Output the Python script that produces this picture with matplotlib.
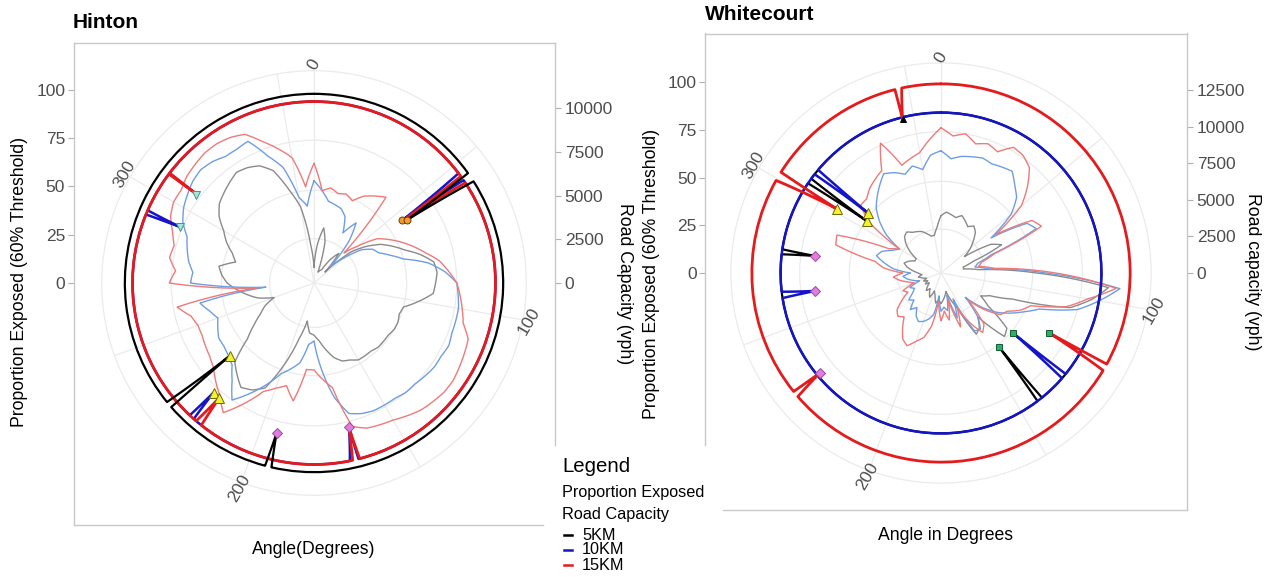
import numpy as np
import matplotlib
matplotlib.use("Agg")
import matplotlib.pyplot as plt
from matplotlib.lines import Line2D
from matplotlib.path import Path
from matplotlib.patches import PathPatch

plt.rcParams['font.family'] = ['Liberation Sans', 'DejaVu Sans']

W, H = 1266, 577

# ------------------------------------------------------------------ data
ANGLES = list(range(0, 360, 5))          # degrees, clockwise from north

# Hinton - proportion exposed (%)
hin_pe_5km = [8, 20, 29, 22, 6, 7, 8, 15, 20, 8, 25, 33, 40, 45, 50, 57, 63, 64,
              63, 62, 55, 48, 47, 48, 48, 47, 47, 47, 46, 46, 46, 44, 43, 40, 35, 30,
              27, 26, 20, 30, 45, 60, 64, 66, 62, 58, 45, 38, 32, 28, 22, 30, 35, 40,
              45, 48, 50, 42, 45, 50, 54, 60, 64, 66, 68, 70, 69, 67, 62, 50, 40, 20]
hin_pe_10km = [53, 48, 43, 42, 41, 38, 30, 38, 28, 12, 20, 30, 35, 37, 42, 48, 60, 68,
               74, 75, 76, 76, 76, 77, 76, 76, 75, 74, 74, 73, 73, 73, 72, 70, 60, 45,
               30, 32, 42, 46, 50, 58, 66, 74, 66, 60, 58, 57, 57, 55, 53, 56, 60, 25,
               64, 63, 66, 68, 70, 75, 78, 80, 82, 83, 82, 80, 80, 81, 70, 62, 45, 40]
hin_pe_15km = [62, 48, 50, 48, 49, 47, 52, 55, 58, 22, 30, 40, 45, 50, 55, 60, 66, 70,
               74, 76, 78, 80, 85, 86, 87, 88, 88, 87, 86, 84, 82, 81, 80, 77, 55, 50,
               45, 45, 62, 55, 58, 62, 72, 82, 76, 72, 68, 66, 65, 64, 64, 66, 72, 30,
               75, 72, 76, 75, 78, 82, 84, 84, 86, 87, 88, 88, 87, 85, 78, 72, 66, 50]

# Hinton - road capacity (vph)
hin_cap5_ang = [0, 54.5, 55.9, 57.5, 193.0, 194.0, 195.0, 229.0, 229.2, 231.0, 360]
hin_cap5_vph = [10830, 10830, 6410, 10830, 10830, 8840, 10830, 10830, 6410, 10830, 10830]
hin_cap10_ang = [0, 52.8, 54.6, 55.5, 165.8, 166.4, 168.6, 221.5, 222.5, 223.2,
                 292.2, 292.7, 293.6, 360]
hin_cap10_vph = [10390, 10390, 6190, 10390, 10390, 8510, 10390, 10390, 8510, 10390,
                 10390, 8290, 10390, 10390]
hin_cap15_ang = [0, 54.0, 55.0, 56.5, 165.4, 166.4, 167.7, 218.4, 219.5, 220.5,
                 306.9, 307.1, 307.3, 360]
hin_cap15_vph = [10390, 10390, 6300, 10390, 10390, 8510, 10390, 10390, 8510, 10390,
                 10390, 8400, 10390, 10390]

# Hinton - markers (angle, vph)
hin_circ_ang, hin_circ_vph = [54.6, 55.9], [6190, 6410]
hin_vtri_ang, hin_vtri_vph = [306.7, 292.7], [8400, 8290]
hin_tri_ang, hin_tri_vph = [229.0, 222.5, 219.5], [6410, 8510, 8510]
hin_dia_ang, hin_dia_vph = [194.0, 166.4], [8840, 8510]

# Whitecourt - proportion exposed (%)
wht_pe_5km = [30, 32, 31, 30, 32, 30, 28, 30, 28, 24, 20, 15, 30, 35, 18, 12, 12, 20,
              50, 88, 80, 70, 40, 28, 24, 30, 45, 47, 30, 35, 37, 20, 15, 10, 12, 14,
              16, 14, 16, 12, 10, 14, 12, 10, 12, 10, 8, 10, 8, 10, 8, 10, 12, 10,
              12, 15, 18, 20, 18, 15, 15, 20, 24, 27, 28, 26, 25, 24, 22, 20, 20, 24]
wht_pe_10km = [64, 60, 62, 63, 64, 63, 64, 65, 60, 56, 48, 32, 52, 55, 28, 20, 18, 25,
               55, 94, 84, 74, 55, 48, 42, 36, 28, 18, 30, 36, 35, 15, 25, 12, 20, 18,
               20, 12, 22, 25, 27, 28, 26, 22, 25, 20, 22, 18, 16, 18, 12, 15, 18, 20,
               16, 25, 30, 35, 33, 28, 25, 35, 42, 48, 52, 56, 60, 58, 55, 58, 55, 62]
wht_pe_15km = [76, 72, 74, 70, 72, 70, 76, 75, 72, 64, 55, 35, 55, 58, 30, 22, 20, 28,
               60, 92, 78, 68, 50, 46, 40, 38, 30, 20, 35, 38, 30, 20, 30, 15, 25, 20,
               25, 15, 28, 35, 38, 42, 40, 35, 30, 32, 30, 25, 20, 22, 15, 18, 22, 25,
               20, 30, 35, 57, 58, 30, 25, 45, 55, 55, 58, 60, 62, 75, 60, 62, 64, 70]

# Whitecourt - road capacity (vph)
wht_cap5_ang = [0, 141.0, 141.9, 143.0, 276.7, 277.7, 278.5, 304.0, 305.0, 306.0, 360]
wht_cap5_vph = [10950, 10950, 6390, 10950, 10950, 8680, 10950, 10950, 6130, 10950, 10950]
wht_cap10_ang = [0, 129.0, 129.8, 131.0, 261.0, 261.9, 263.3, 308.0, 309.4, 310.0, 360]
wht_cap10_vph = [10950, 10950, 6390, 10950, 10950, 8680, 10950, 10950, 6450, 10950, 10950]
wht_cap15_ang = [0, 118.8, 119.0, 121.0, 229.2, 230.5, 231.2, 299.3, 301.6, 302.2,
                 345.9, 346.0, 348.0, 360]
wht_cap15_vph = [12910, 12910, 8435, 12910, 12910, 10690, 12910, 12910, 8345, 12910,
                 12910, 10820, 12910, 12910]

# Whitecourt - markers (angle, vph)
wht_tri_ang, wht_tri_vph = [301.6, 305.0, 309.4], [8345, 6130, 6450]
wht_btri_ang, wht_btri_vph = [346.0], [10820]
wht_dia_ang, wht_dia_vph = [277.7, 261.9, 230.5], [8680, 8680, 10690]
wht_sq_ang, wht_sq_vph = [141.9, 129.8, 119.0], [6390, 6390, 8435]

PE_TICKS = [0, 25, 50, 75, 100]
ANGLE_LABELS = [0, 100, 200, 300]
hin_cap_ticks = [0, 2500, 5000, 7500, 10000]
wht_cap_ticks = [0, 2500, 5000, 7500, 10000, 12500]

# ------------------------------------------------------------------ style
C_GRID = '#ebebeb'
C_FRAME = '#c8c8c8'
C_TICK = '#4d4d4d'
C_PE = {'5': '#8a8a8a', '10': '#6f9de3', '15': '#ee7a7a'}
C_CAP = {'5': '#000000', '10': '#1414c8', '15': '#e41a1c'}
LW_CAP = {'5': 1.6, '10': 1.8, '15': 2.0}

fig = plt.figure(figsize=(W / 100, H / 100), dpi=100)
fig.patch.set_facecolor('white')


def fx(x):
    return x / W


def fy(y):
    return 1 - y / H


def polar_line(pax, ang_deg, r, color, lw, z):
    """Line in (theta, r) data space, drawn by the polar transform
    (segments of constant radius become arcs)."""
    verts = np.column_stack([np.deg2rad(np.asarray(ang_deg, float)),
                             np.asarray(r, float)])
    path = Path(verts, _interpolation_steps=40)
    patch = PathPatch(path, fill=False, edgecolor=color, lw=lw, zorder=z,
                      joinstyle='round', capstyle='round', transform=pax.transData)
    pax.add_artist(patch)


def panel(cx, cy, s, frame, lbound, bbound, rbound, cap_scale, cap_ticks,
          pe, caps, markers, labels):
    x0, y0, x1, y1 = frame
    # cartesian frame axes
    ax = fig.add_axes([fx(x0), fy(y1), (x1 - x0) / W, (y1 - y0) / H])
    ax.set_xlim((x0 - cx) / s, (x1 - cx) / s)
    ax.set_ylim(-(y1 - cy) / s, (cy - y0) / s)
    ax.set_facecolor('none')
    ax.set_xticks([])
    ax.set_yticks(PE_TICKS)
    ax.tick_params(axis='y', labelsize=12.5, labelcolor=C_TICK, color='#b0b0b0',
                   length=4, width=0.8, pad=2)
    for sp in ax.spines.values():
        sp.set_color(C_FRAME)
        sp.set_linewidth(1.0)
    ylo, yhi = ax.get_ylim()
    if lbound is not None:
        ax.spines['left'].set_bounds(-(lbound - cy) / s, yhi)
    if bbound is not None:
        ax.spines['bottom'].set_bounds((bbound[0] - cx) / s, (bbound[1] - cx) / s)
    ax.spines['right'].set_bounds(-(rbound - cy) / s, yhi)
    sec = ax.secondary_yaxis('right', functions=(lambda u: u / cap_scale,
                                                 lambda v: v * cap_scale))
    sec.set_yticks(cap_ticks)
    sec.spines['right'].set_visible(False)
    sec.tick_params(labelsize=12.5, labelcolor=C_TICK, color='#b0b0b0',
                    length=4, width=0.8, pad=3)

    # polar axes
    R = 110 * s
    pax = fig.add_axes([fx(cx - R), fy(cy + R), 2 * R / W, 2 * R / H],
                       projection='polar')
    pax.set_theta_zero_location('N')
    pax.set_theta_direction(-1)
    pax.set_ylim(0, 110)
    pax.patch.set_alpha(0)
    pax.set_rgrids([23, 48, 74], labels=['', '', ''])
    pax.set_thetagrids(list(range(0, 360, 50)), labels=[''] * 8)
    pax.grid(True, color=C_GRID, lw=0.9)
    pax.spines['polar'].set_color(C_GRID)
    pax.spines['polar'].set_linewidth(0.9)
    pax.tick_params(length=0)

    for a in ANGLE_LABELS:
        pax.text(np.deg2rad(a), 113, str(a), rotation=60, ha='center', va='center',
                 fontsize=12.5, color=C_TICK, clip_on=False)

    ang_closed = np.append(ANGLES, 360)
    for key in ['5', '10', '15']:
        vals = pe[key]
        polar_line(pax, ang_closed, np.append(vals, vals[0]), C_PE[key], 1.0, 2)

    for key, (ang, vph) in caps:
        polar_line(pax, ang, np.asarray(vph) * cap_scale, C_CAP[key], LW_CAP[key], 3)

    for ang, vph, mk, fc, ec, ms in markers:
        pax.plot(np.deg2rad(ang), np.asarray(vph) * cap_scale, ls='none', marker=mk,
                 ms=ms, mfc=fc, mec=ec, mew=0.7, zorder=5)
    pax.set_xlim(0, 2 * np.pi)
    pax.set_ylim(0, 110)

    title, tpos, ylab, ylpos, rlab, rlpos, xlab, xlpos = labels
    fig.text(fx(tpos[0]), fy(tpos[1]), title, fontsize=15, fontweight='bold',
             ha='left', va='center')
    fig.text(fx(ylpos[0]), fy(ylpos[1]), ylab, fontsize=12.7, rotation=90,
             ha='center', va='center')
    fig.text(fx(rlpos[0]), fy(rlpos[1]), rlab, fontsize=12.7, rotation=-90,
             ha='center', va='center')
    fig.text(fx(xlpos[0]), fy(xlpos[1]), xlab, fontsize=12.7, ha='center',
             va='center')


# Hinton
panel(cx=314, cy=283, s=1.93, frame=(73.5, 42.7, 555, 525), lbound=None,
      bbound=(73.5, 543), rbound=445, cap_scale=0.00905, cap_ticks=hin_cap_ticks,
      pe={'5': hin_pe_5km, '10': hin_pe_10km, '15': hin_pe_15km},
      caps=[('10', (hin_cap10_ang, hin_cap10_vph)),
            ('15', (hin_cap15_ang, hin_cap15_vph)),
            ('5', (hin_cap5_ang, hin_cap5_vph))],
      markers=[(hin_circ_ang, hin_circ_vph, 'o', '#f39c34', '#6b3b00', 5),
               (hin_vtri_ang, hin_vtri_vph, 'v', '#a9e4dc', '#3c9a86', 6),
               (hin_tri_ang, hin_tri_vph, '^', '#f2f230', '#6b6b00', 7),
               (hin_dia_ang, hin_dia_vph, 'D', '#e07ee0', '#9a4a9a', 5)],
      labels=('Hinton', (73, 22), 'Proportion Exposed (60% Threshold)', (20, 282),
              'Road Capacity (vph)', (624, 284), 'Angle(Degrees)', (314, 550)))

# Whitecourt
panel(cx=941, cy=273, s=1.91, frame=(705, 33.5, 1187, 510), lbound=445,
      bbound=(723, 1187), rbound=510, cap_scale=0.00767, cap_ticks=wht_cap_ticks,
      pe={'5': wht_pe_5km, '10': wht_pe_10km, '15': wht_pe_15km},
      caps=[('5', (wht_cap5_ang, wht_cap5_vph)),
            ('10', (wht_cap10_ang, wht_cap10_vph)),
            ('15', (wht_cap15_ang, wht_cap15_vph))],
      markers=[(wht_tri_ang, wht_tri_vph, '^', '#f2f230', '#6b6b00', 7),
               (wht_btri_ang, wht_btri_vph, '^', '#000000', '#000000', 5),
               (wht_dia_ang, wht_dia_vph, 'D', '#e07ee0', '#9a4a9a', 5),
               (wht_sq_ang, wht_sq_vph, 's', '#2fae6a', '#145c32', 5)],
      labels=('Whitecourt', (705, 14), 'Proportion Exposed (60% Threshold)', (652, 274),
              'Road capacity (vph)', (1252, 272), 'Angle in Degrees', (945, 535)))

# Legend
fig.text(fx(562), fy(467), 'Legend', fontsize=14.7, ha='left', va='center')
fig.text(fx(562), fy(493), 'Proportion Exposed', fontsize=11.7, ha='left', va='center')
fig.text(fx(562), fy(515), 'Road Capacity', fontsize=11.7, ha='left', va='center')
for lab, key, y in [('5KM', '5', 535), ('10KM', '10', 550), ('15KM', '15', 565)]:
    fig.add_artist(Line2D([fx(564), fx(572)], [fy(y), fy(y)], color=C_CAP[key], lw=1.8))
    fig.text(fx(582), fy(y), lab, fontsize=11.7, ha='left', va='center')

fig.savefig('out.png', dpi=100)
